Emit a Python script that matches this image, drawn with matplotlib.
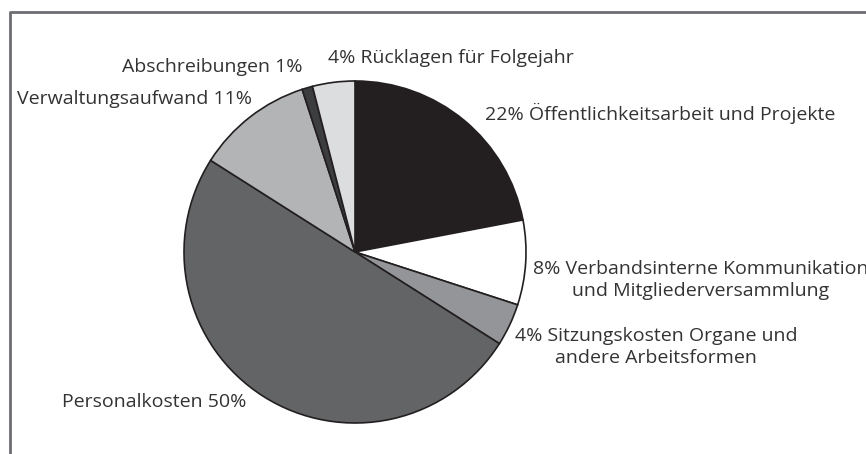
import matplotlib.pyplot as plt

plt.rcParams['font.family'] = ['Open Sans', 'DejaVu Sans']

kategorien = ['Öffentlichkeitsarbeit und Projekte',
              'Verbandsinterne Kommunikation und Mitgliederversammlung',
              'Sitzungskosten Organe und andere Arbeitsformen',
              'Personalkosten', 'Verwaltungsaufwand', 'Abschreibungen',
              'Rücklagen für Folgejahr']
anteile = [22, 8, 4, 50, 11, 1, 4]
farben = ['#231f20', '#ffffff', '#939598', '#636466', '#b3b4b6', '#3b3d3f', '#dcdddf']

# Beschriftungen: (Text, x, y, ha) in Pixeln
beschriftungen = [
    ('22% Öffentlichkeitsarbeit und Projekte', 485, 113, 'left'),
    ('8% Verbandsinterne Kommunikation\nund Mitgliederversammlung', 701, 280, 'center'),
    ('4% Sitzungskosten Organe und\nandere Arbeitsformen', 656, 347, 'center'),
    ('Personalkosten 50%', 62, 402, 'left'),
    ('Verwaltungsaufwand 11%', 17, 99, 'left'),
    ('Abschreibungen 1%', 122, 67, 'left'),
    ('4% Rücklagen für Folgejahr', 328, 58, 'left'),
]

fig = plt.figure(figsize=(8.66, 4.54), dpi=100)
ax = fig.add_axes([0, 0, 1, 1])

# y-Achse ist invertiert, daher gegen den Uhrzeigersinn in Daten = im Uhrzeigersinn im Bild
ax.pie(anteile, colors=farben, startangle=-90, counterclock=True,
       center=(355, 252), radius=171, frame=True,
       wedgeprops=dict(edgecolor='#231f20', linewidth=1.2))
ax.set_xlim(0, 866)
ax.set_ylim(454, 0)
ax.set_aspect('equal')
ax.axis('off')

for text, x, y, ha in beschriftungen:
    ax.text(x, y, text, ha=ha, va='center', fontsize=14, color='#333333',
            linespacing=1.3)

# Rahmen (oben und links)
ax.plot([10, 866], [12, 12], color='#6d6e71', lw=2, solid_capstyle='butt')
ax.plot([10, 10], [11, 454], color='#6d6e71', lw=2, solid_capstyle='butt')

fig.savefig('out.png', dpi=100)
